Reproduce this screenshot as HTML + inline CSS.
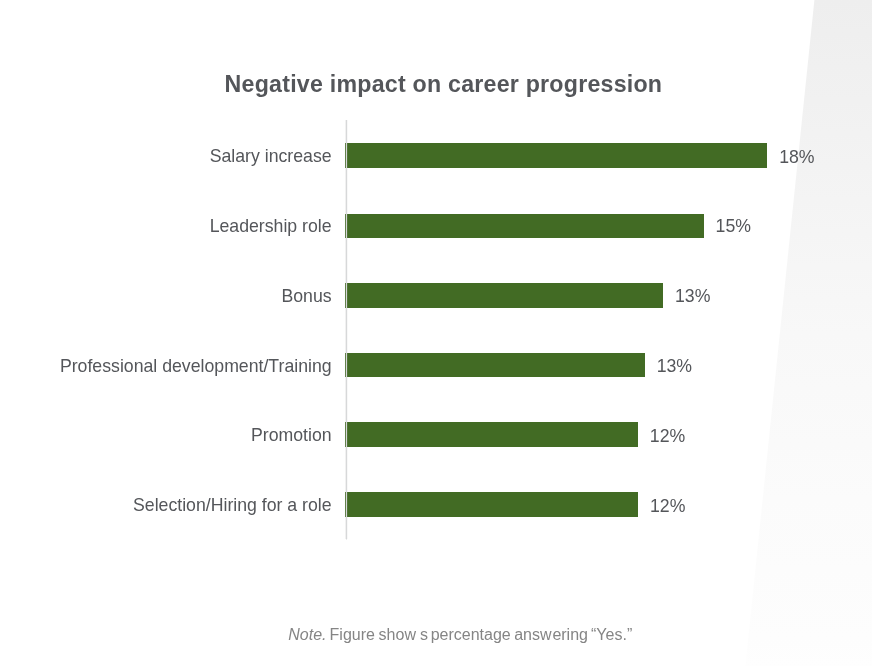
<!DOCTYPE html>
<html><head><meta charset="utf-8">
<style>
html,body{margin:0;padding:0;background:#fff;}
body{width:872px;height:666px;position:relative;overflow:hidden;font-family:"Liberation Sans",sans-serif;color:#54565a;}
.panel{position:absolute;left:0;top:0;width:872px;height:666px;background:linear-gradient(to bottom,#eeeeee 0%,#f3f3f3 25%,#f8f8f8 50%,#fbfbfb 75%,#fdfdfd 96%,#fefefe 100%);clip-path:polygon(814.4px 0,872px 0,872px 666px,745.4px 666px);}
.title{position:absolute;left:224.6px;top:70px;font-weight:bold;font-size:23.2px;letter-spacing:0.23px;line-height:28px;white-space:nowrap;}
.axis{position:absolute;left:346px;top:120px;width:1px;height:419px;background:#d7d8d9;box-shadow:-1px 0 0 rgba(200,200,200,0.25),1px 0 0 rgba(200,200,200,0.12),0 1px 0 rgba(215,216,217,0.5);}
.bar{position:absolute;left:345px;background:#426b24;}
.cat{position:absolute;right:540.4px;font-size:17.7px;line-height:20px;white-space:nowrap;text-align:right;}
.val{position:absolute;font-size:17.7px;line-height:20px;white-space:nowrap;}
.note{position:absolute;left:0;top:626px;font-size:16px;line-height:18px;color:#858585;white-space:nowrap;}
.w{position:absolute;top:0;}
</style></head><body>
<div class="panel"></div>
<div class="title">Negative impact on career progression</div>
<div class="bar" style="top:143px;height:25px;width:422px"></div>
<div class="bar" style="top:214px;height:24px;width:359px"></div>
<div class="bar" style="top:283px;height:25px;width:318px"></div>
<div class="bar" style="top:353px;height:24px;width:300px"></div>
<div class="bar" style="top:422px;height:25px;width:293px"></div>
<div class="bar" style="top:492px;height:25px;width:293px"></div>
<div class="axis"></div>
<div class="cat" style="top:146px">Salary increase</div>
<div class="cat" style="top:216px">Leadership role</div>
<div class="cat" style="top:286px">Bonus</div>
<div class="cat" style="top:356px">Professional development/Training</div>
<div class="cat" style="top:425px">Promotion</div>
<div class="cat" style="top:495px">Selection/Hiring for a role</div>
<div class="val" style="left:779.2px;top:147px">18%</div>
<div class="val" style="left:715.6px;top:216px">15%</div>
<div class="val" style="left:675px;top:286px">13%</div>
<div class="val" style="left:656.7px;top:356px">13%</div>
<div class="val" style="left:649.8px;top:426px">12%</div>
<div class="val" style="left:650px;top:496px">12%</div>
<div class="note"><i class="w" style="left:288.3px">Note.</i> <span class="w" style="left:329.6px">Figure</span> <span class="w" style="left:378.6px">show</span><span class="w" style="left:419.9px">s</span> <span class="w" style="left:430.7px">percentage</span> <span class="w" style="left:514.2px">answ</span><span class="w" style="left:552.4px">ering</span> <span class="w" style="left:591px">“Yes.”</span></div>
</body></html>
